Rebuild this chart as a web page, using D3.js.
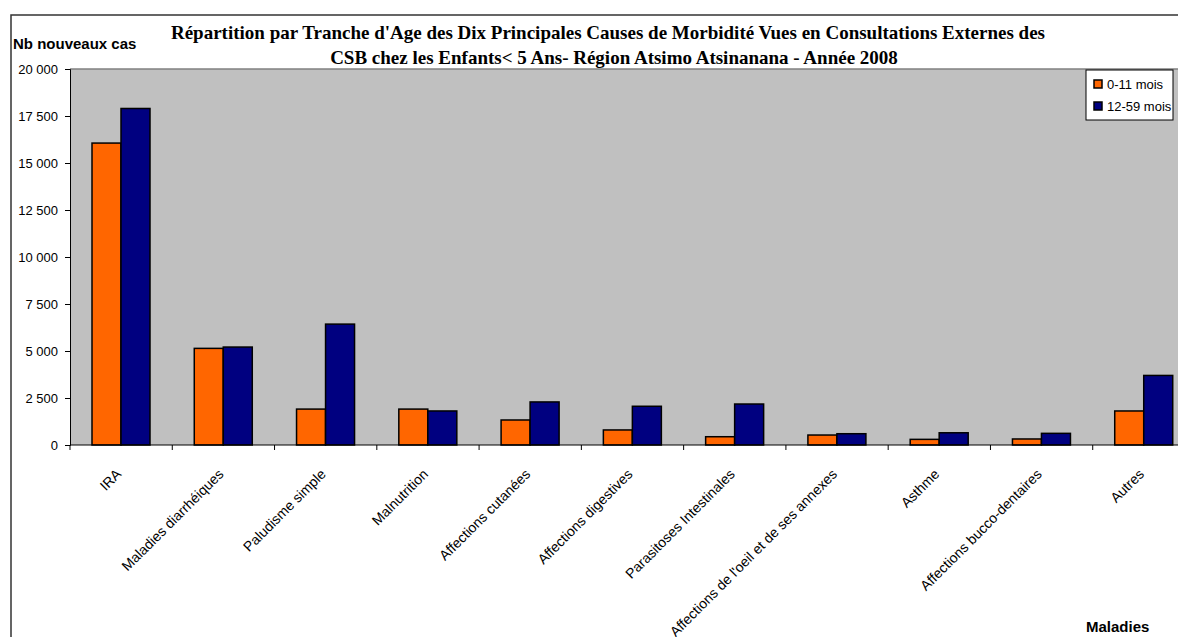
<!DOCTYPE html>
<html>

<head>
    <meta charset="utf-8">
    <style>
        body { margin: 0; background: #fff; }
        text { font-family: "Liberation Sans", Arial, sans-serif; fill: #000; }
        .title { font-family: "Liberation Serif", "Times New Roman", serif; font-weight: bold; font-size: 19px; }
        .axisTitle { font-weight: bold; font-size: 15px; }
        .tickLabel { font-size: 13px; }
        .catLabel { font-size: 14px; }
    </style>
</head>

<body>
    <svg id="container" width="1178" height="637">
        <g id="body"></g>
    </svg>
</body>
<script src="https://d3js.org/d3.v7.min.js"></script>

<script>
    // data
    let categories = ["IRA", "Maladies diarrhéiques", "Paludisme simple", "Malnutrition",
        "Affections cutanées", "Affections digestives", "Parasitoses Intestinales",
        "Affections de l'oeil et de ses annexes", "Asthme", "Affections bucco-dentaires", "Autres"];
    let seriesNames = ["0-11 mois", "12-59 mois"];
    let infants = [16060, 5140, 1910, 1910, 1330, 800, 440, 530, 300, 320, 1810];
    let children = [17900, 5210, 6430, 1810, 2290, 2060, 2180, 600, 650, 620, 3700];
    let yTicks = [0, 2500, 5000, 7500, 10000, 12500, 15000, 17500, 20000];
    let colors = ["#ff6600", "#000080"];

    let body = d3.select("#body");

    let plotLeft = 70, plotRight = 1195, plotTop = 69, plotBottom = 445;

    let yScale = d3.scaleLinear()
        .domain([0, 20000])
        .range([plotBottom, plotTop]);
    let xScale = d3.scaleBand()
        .domain(categories)
        .range([plotLeft, plotRight]);
    let subScale = d3.scaleBand()
        .domain(seriesNames)
        .range([22, 80]);

    // outer chart frame
    body.append("rect")
        .attr("x", 11).attr("y", 15)
        .attr("width", 1300).attr("height", 700)
        .attr("fill", "none")
        .attr("stroke", "#333")
        .attr("stroke-width", 1.5);

    // plot area
    body.append("rect")
        .attr("x", plotLeft).attr("y", plotTop)
        .attr("width", plotRight - plotLeft).attr("height", plotBottom - plotTop)
        .attr("fill", "#c0c0c0");
    body.append("line")
        .attr("x1", plotLeft).attr("x2", plotRight)
        .attr("y1", plotTop).attr("y2", plotTop)
        .attr("stroke", "#808080")
        .attr("stroke-width", 1.5);

    // bars
    let rows = categories.map((c, i) => ({cat: c, values: [infants[i], children[i]]}));
    let groups = body.append("g")
        .selectAll("g")
        .data(rows)
        .enter()
        .append("g")
        .attr("transform", (d) => `translate(${xScale(d.cat)}, 0)`);
    groups.selectAll("rect")
        .data((d) => d.values.map((v, j) => ({name: seriesNames[j], value: v, color: colors[j]})))
        .enter()
        .append("rect")
            .attr("x", (d) => subScale(d.name))
            .attr("y", (d) => yScale(d.value))
            .attr("width", subScale.bandwidth())
            .attr("height", (d) => plotBottom - yScale(d.value))
            .attr("fill", (d) => d.color)
            .attr("stroke", "#000")
            .attr("stroke-width", 1.5);

    // y axis
    let yAxis = body.append("g")
        .attr("transform", `translate(${plotLeft}, 0)`)
        .call(d3.axisLeft(yScale)
            .tickValues(yTicks)
            .tickSize(5)
            .tickPadding(7)
            .tickFormat((d) => d3.format(",")(d).replace(",", " ")));
    yAxis.selectAll("text").attr("class", "tickLabel");
    yAxis.attr("font-family", null).attr("font-size", null);
    yAxis.select(".domain").attr("stroke", "#000");

    // x axis
    let xAxis = body.append("g")
        .attr("transform", `translate(0, ${plotBottom})`);
    xAxis.append("line")
        .attr("x1", plotLeft).attr("x2", plotRight)
        .attr("stroke", "#000");
    xAxis.selectAll(".xtick")
        .data(categories.concat([null]))
        .enter()
        .append("line")
            .attr("x1", (d) => d === null ? plotRight : xScale(d))
            .attr("x2", (d) => d === null ? plotRight : xScale(d))
            .attr("y2", 5)
            .attr("stroke", "#000");
    xAxis.selectAll(".xlabel")
        .data(categories)
        .enter()
        .append("text")
            .attr("class", "catLabel")
            .attr("text-anchor", "end")
            .attr("transform", (d) => `translate(${xScale(d) + xScale.bandwidth() / 2 + 1}, 30) rotate(-45)`)
            .text((d) => d);

    // titles
    body.append("text")
        .attr("class", "title")
        .attr("x", 608).attr("y", 39)
        .attr("text-anchor", "middle")
        .text("Répartition par Tranche d'Age des Dix Principales Causes de Morbidité Vues en Consultations Externes des");
    body.append("text")
        .attr("class", "title")
        .attr("x", 614).attr("y", 64)
        .attr("text-anchor", "middle")
        .text("CSB chez les Enfants< 5 Ans- Région Atsimo Atsinanana - Année 2008");
    body.append("text")
        .attr("class", "axisTitle")
        .attr("x", 13).attr("y", 49)
        .text("Nb nouveaux cas");
    body.append("text")
        .attr("class", "axisTitle")
        .attr("x", 1086).attr("y", 632)
        .text("Maladies");

    // legend
    let legend = body.append("g")
        .attr("transform", "translate(1086, 70)");
    legend.append("rect")
        .attr("width", 87).attr("height", 50)
        .attr("fill", "#fff")
        .attr("stroke", "#000");
    let items = legend.selectAll(".item")
        .data(seriesNames)
        .enter()
        .append("g")
        .attr("transform", (d, i) => `translate(8, ${14 + i * 22})`);
    items.append("rect")
        .attr("y", -4)
        .attr("width", 8).attr("height", 8)
        .attr("fill", (d, i) => colors[i])
        .attr("stroke", "#000")
        .attr("stroke-width", 1.5);
    items.append("text")
        .attr("class", "tickLabel")
        .attr("x", 13)
        .attr("dy", "0.35em")
        .text((d) => d);
</script>

</html>
